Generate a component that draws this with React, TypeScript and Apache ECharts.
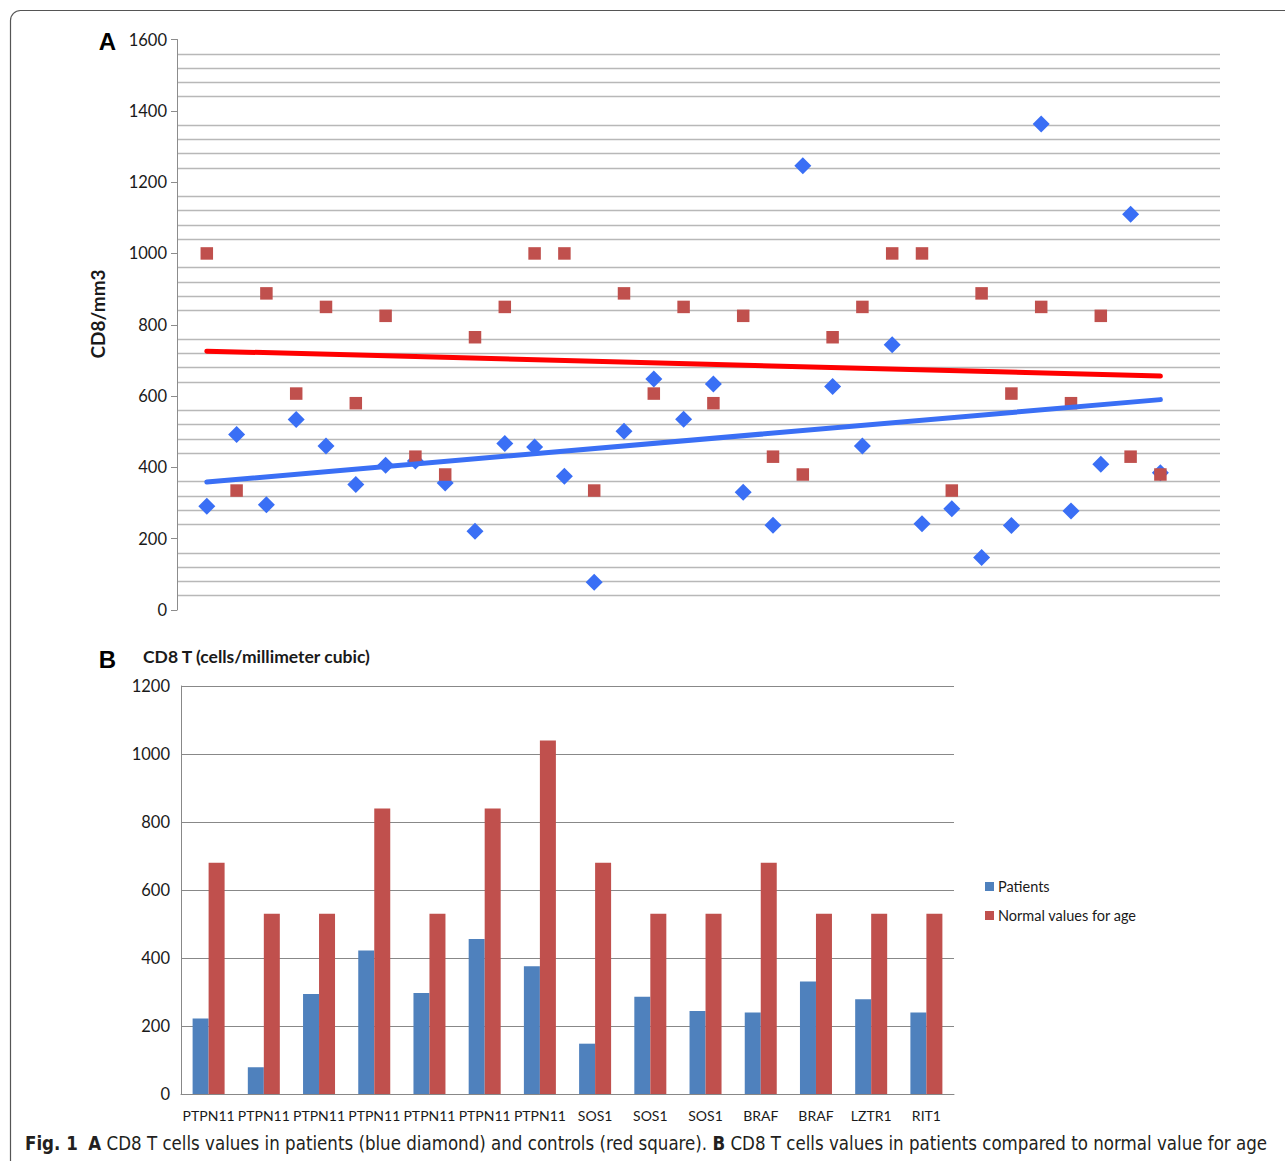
import React, { useEffect, useRef } from "react";
import * as echarts from "echarts";

// ---- Panel A data (scatter, 33 subjects) ----
const patientsA = [291, 492, 295, 534, 460, 352, 406, 418, 356, 221, 467, 457, 375, 78, 501, 648, 535, 634, 330, 238, 1246, 627, 460, 744, 242, 284, 147, 237, 1363, 278, 409, 1110, 385];
const controlsA = [1000, 335, 888, 607, 850, 580, 825, 430, 380, 765, 850, 1000, 1000, 335, 888, 607, 850, 580, 825, 430, 380, 765, 850, 1000, 1000, 335, 888, 607, 850, 580, 825, 430, 380];
// trend line end points (x index, value)
const patientsTrend = [[1, 359], [33, 590]];
const controlsTrend = [[1, 726], [33, 656]];
const yTicksA = [0, 200, 400, 600, 800, 1000, 1200, 1400, 1600];

// ---- Panel B data (bars) ----
const genes = ["PTPN11", "PTPN11", "PTPN11", "PTPN11", "PTPN11", "PTPN11", "PTPN11", "SOS1", "SOS1", "SOS1", "BRAF", "BRAF", "LZTR1", "RIT1"];
const patientsB = [222, 79, 294, 422, 297, 456, 376, 148, 286, 244, 240, 331, 279, 240];
const normalB = [680, 530, 530, 840, 530, 840, 1040, 680, 530, 530, 680, 530, 530, 530];
const yTicksB = [0, 200, 400, 600, 800, 1000, 1200];

const FONT = "Lato, 'Open Sans', sans-serif";
const TXT = "#1a1a1a";
const CAPFONT = "'Liberation Sans Narrow', 'DejaVu Sans Condensed', sans-serif";

export default function App() {
  const ref = useRef<HTMLDivElement>(null);
  useEffect(() => {
    if (!ref.current) return;
    const chart = echarts.init(ref.current, null, { renderer: "svg" });
    const plain = (v: number) => String(v);
    const option: any = {
      animation: false,
      backgroundColor: "#ffffff",
      textStyle: { fontFamily: FONT, color: TXT },
      grid: [
        { left: 177, top: 39.5, width: 1043, height: 570.5 },
        { left: 181, top: 686, width: 773, height: 408 },
      ],
      xAxis: [
        { gridIndex: 0, type: "value", min: 0, max: 35, show: false },
        {
          gridIndex: 1,
          type: "category",
          data: genes,
          axisLine: { show: true, lineStyle: { color: "#888888", width: 1 } },
          axisTick: { show: false },
          axisLabel: { interval: 0, fontSize: 14, color: TXT, fontFamily: FONT, margin: 14 },
        },
      ],
      yAxis: [
        {
          gridIndex: 0,
          type: "value",
          min: yTicksA[0],
          max: yTicksA[yTicksA.length - 1],
          interval: 200,
          axisLine: { show: true, lineStyle: { color: "#8c8c8c", width: 1 } },
          axisTick: { show: true, length: 6, lineStyle: { color: "#8c8c8c" } },
          axisLabel: { fontSize: 16.5, color: TXT, fontFamily: FONT, margin: 10, formatter: plain },
          splitLine: { show: false },
          minorTick: { show: false, splitNumber: 5 },
          minorSplitLine: { show: true, lineStyle: { color: "#b8b8b8", width: 1.3 } },
        },
        {
          gridIndex: 1,
          type: "value",
          min: yTicksB[0],
          max: yTicksB[yTicksB.length - 1],
          interval: 200,
          axisLine: { show: true, lineStyle: { color: "#888888", width: 1 } },
          axisTick: { show: false },
          axisLabel: { fontSize: 16.5, color: TXT, fontFamily: FONT, margin: 11, formatter: plain },
          splitLine: { show: true, lineStyle: { color: "#888888", width: 1 } },
        },
      ],
      legend: {
        data: ["Patients", "Normal values for age"],
        orient: "vertical",
        left: 980,
        top: 874,
        itemWidth: 9,
        itemHeight: 9,
        itemGap: 14,
        icon: "rect",
        textStyle: { fontSize: 14.5, color: TXT, fontFamily: FONT, padding: [0, 0, 0, -1] },
      },
      series: [
        {
          name: "Patients A",
          type: "scatter",
          xAxisIndex: 0,
          yAxisIndex: 0,
          symbol: "diamond",
          symbolSize: 17,
          itemStyle: { color: "#3a6ff5", opacity: 1 },
          data: patientsA.map((v, i) => [i + 1, v]),
          z: 2,
        },
        {
          name: "Controls A",
          type: "scatter",
          xAxisIndex: 0,
          yAxisIndex: 0,
          symbol: "rect",
          symbolSize: 12.5,
          itemStyle: { color: "#c0504d", opacity: 1 },
          data: controlsA.map((v, i) => [i + 1, v]),
          z: 3,
        },
        {
          name: "Controls trend",
          type: "line",
          xAxisIndex: 0,
          yAxisIndex: 0,
          symbol: "none",
          data: controlsTrend,
          lineStyle: { color: "#ff0000", width: 5, cap: "round" },
          z: 4,
        },
        {
          name: "Patients trend",
          type: "line",
          xAxisIndex: 0,
          yAxisIndex: 0,
          symbol: "none",
          data: patientsTrend,
          lineStyle: { color: "#3a6ff5", width: 5, cap: "round" },
          z: 4,
        },
        {
          name: "Patients",
          type: "bar",
          xAxisIndex: 1,
          yAxisIndex: 1,
          barWidth: 16,
          barGap: "0%",
          itemStyle: { color: "#4f81bd" },
          data: patientsB,
        },
        {
          name: "Normal values for age",
          type: "bar",
          xAxisIndex: 1,
          yAxisIndex: 1,
          barWidth: 16,
          barGap: "0%",
          itemStyle: { color: "#c0504d" },
          data: normalB,
        },
      ],
      graphic: [
        {
          type: "rect",
          shape: { x: 10.5, y: 10.5, width: 1300, height: 1200, r: 10 },
          style: { fill: "none", stroke: "#555555", lineWidth: 1.2 },
          silent: true,
        },
        {
          type: "text",
          x: 107.5,
          y: 41.5,
          style: { text: "A", fontSize: 24, fontWeight: "bold", fontFamily: "'Liberation Sans', Arial, sans-serif", fill: "#000", align: "center", verticalAlign: "middle" },
        },
        {
          type: "text",
          x: 107.5,
          y: 659,
          style: { text: "B", fontSize: 24, fontWeight: "bold", fontFamily: "'Liberation Sans', Arial, sans-serif", fill: "#000", align: "center", verticalAlign: "middle" },
        },
        {
          type: "text",
          x: 97,
          y: 314,
          rotation: Math.PI / 2,
          style: { text: "CD8/mm3", fontSize: 19, fontWeight: "bold", fontFamily: FONT, fill: TXT, align: "center", verticalAlign: "middle" },
        },
        {
          type: "text",
          x: 143,
          y: 656,
          style: { text: "CD8 T (cells/millimeter cubic)", fontSize: 17.5, fontWeight: "bold", fontFamily: FONT, fill: TXT, align: "left", verticalAlign: "middle" },
        },
        {
          type: "text",
          x: 25,
          y: 1143,
          style: {
            text: "{b|Fig. 1}  {b|A} CD8 T cells values in patients (blue diamond) and controls (red square). {b|B} CD8 T cells values in patients compared to normal value for age",
            fontSize: 18.55,
            fontFamily: CAPFONT,
            fill: "#231f20",
            align: "left",
            verticalAlign: "middle",
            rich: {
              b: { fontSize: 18.55, fontWeight: "bold", fontFamily: CAPFONT, fill: "#231f20" },
            },
          },
        },
      ],
    };
    chart.setOption(option);
    return () => chart.dispose();
  }, []);
  return (
    <div
      ref={ref}
      style={{ position: "absolute", left: 0, top: 0, width: 1285, height: 1161 }}
    />
  );
}
